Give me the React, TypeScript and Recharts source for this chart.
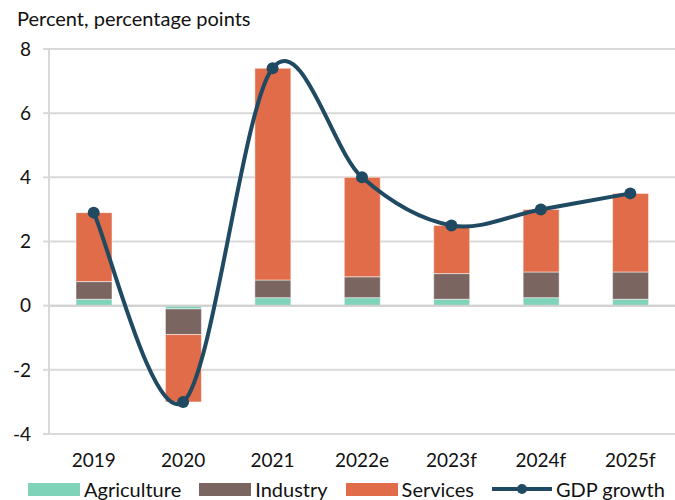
import { ComposedChart, Bar, Line, XAxis, YAxis, CartesianGrid, Legend, ReferenceLine } from "recharts";

const years = ["2019", "2020", "2021", "2022e", "2023f", "2024f", "2025f"];
const agriculture = [0.2, -0.1, 0.25, 0.25, 0.2, 0.25, 0.2];
const industry = [0.55, -0.8, 0.55, 0.65, 0.8, 0.8, 0.85];
const services = [2.15, -2.1, 6.6, 3.1, 1.5, 1.95, 2.45];
const gdp = [2.9, -3.0, 7.4, 4.0, 2.5, 3.0, 3.5];
const yTicks = [-4, -2, 0, 2, 4, 6, 8];

const data = years.map((year, i) => ({
  year,
  agriculture: agriculture[i],
  industry: industry[i],
  services: services[i],
  gdp: gdp[i],
}));

const FONT = "Lato, 'Open Sans', sans-serif";
const COLORS = { agri: "#7fd3b9", ind: "#7a6561", serv: "#e06c4a", gdp: "#1f4a62" };

// Excel-style smoothed line (Catmull-Rom with 1/6 control points)
function smoothCurve(context: any) {
  let pts: number[][] = [];
  return {
    areaStart() {},
    areaEnd() {},
    lineStart() {
      pts = [];
    },
    point(x: number, y: number) {
      pts.push([+x, +y]);
    },
    lineEnd() {
      const n = pts.length;
      if (!n) return;
      context.moveTo(pts[0][0], pts[0][1]);
      for (let i = 0; i < n - 1; i++) {
        const p0 = pts[Math.max(i - 1, 0)];
        const p1 = pts[i];
        const p2 = pts[i + 1];
        const p3 = pts[Math.min(i + 2, n - 1)];
        context.bezierCurveTo(
          p1[0] + (p2[0] - p0[0]) / 6,
          p1[1] + (p2[1] - p0[1]) / 6,
          p2[0] - (p3[0] - p1[0]) / 6,
          p2[1] - (p3[1] - p1[1]) / 6,
          p2[0],
          p2[1]
        );
      }
    },
  };
}

const legendItems = [
  { label: "Agriculture", color: COLORS.agri, kind: "bar" },
  { label: "Industry", color: COLORS.ind, kind: "bar" },
  { label: "Services", color: COLORS.serv, kind: "bar" },
  { label: "GDP growth", color: COLORS.gdp, kind: "line" },
];

function ChartLegend() {
  return (
    <div style={{ display: "flex", gap: 18, paddingLeft: 28, marginTop: 4, fontFamily: FONT, fontSize: 20, color: "#111", lineHeight: "22px" }}>
      {legendItems.map((it) => (
        <div key={it.label} style={{ display: "flex", alignItems: "center", gap: 4 }}>
          {it.kind === "bar" ? (
            <div style={{ width: 52, height: 13, background: it.color }} />
          ) : (
            <svg width={60} height={14}>
              <line x1={0} y1={7} x2={60} y2={7} stroke={it.color} strokeWidth={4} />
              <circle cx={30} cy={7} r={5} fill={it.color} />
            </svg>
          )}
          <span>{it.label}</span>
        </div>
      ))}
    </div>
  );
}

export default function App() {
  return (
    <div style={{ position: "absolute", left: 0, top: 0, width: 675, height: 500, background: "#fff" }}>
      <div style={{ position: "absolute", left: 17, top: 6, fontFamily: FONT, fontSize: 20, color: "#111" }}>
        Percent, percentage points
      </div>
      <ComposedChart
        width={675}
        height={500}
        data={data}
        stackOffset="sign"
        barSize={36}
        margin={{ top: 49, right: 0, bottom: 0, left: 0 }}
      >
        <CartesianGrid vertical={false} stroke="#d9d9d9" strokeWidth={2} />
        <XAxis
          dataKey="year"
          axisLine={false}
          tickLine={false}
          height={40}
          tickMargin={14}
          tick={{ fontFamily: FONT, fontSize: 19, fill: "#111" }}
        />
        <YAxis
          domain={[-4, 8]}
          ticks={yTicks}
          width={49}
          axisLine={{ stroke: "#d9d9d9", strokeWidth: 2 }}
          tickLine={{ stroke: "#d9d9d9", strokeWidth: 2 }}
          tickSize={6}
          tickMargin={12}
          tick={{ fontFamily: FONT, fontSize: 19, fill: "#111" }}
        />
        <ReferenceLine y={0} stroke="#d0d0d0" strokeWidth={2} />
        <Legend content={<ChartLegend />} verticalAlign="bottom" height={26} />
        <Bar dataKey="agriculture" name="Agriculture" stackId="a" fill={COLORS.agri} stroke="#fff" strokeWidth={0.5} isAnimationActive={false} />
        <Bar dataKey="industry" name="Industry" stackId="a" fill={COLORS.ind} stroke="#fff" strokeWidth={0.5} isAnimationActive={false} />
        <Bar dataKey="services" name="Services" stackId="a" fill={COLORS.serv} stroke="#fff" strokeWidth={0.5} isAnimationActive={false} />
        <Line
          dataKey="gdp"
          name="GDP growth"
          type={smoothCurve as any}
          stroke={COLORS.gdp}
          strokeWidth={4}
          dot={{ r: 6, fill: COLORS.gdp, stroke: COLORS.gdp, strokeWidth: 0 }}
          isAnimationActive={false}
        />
      </ComposedChart>
    </div>
  );
}
